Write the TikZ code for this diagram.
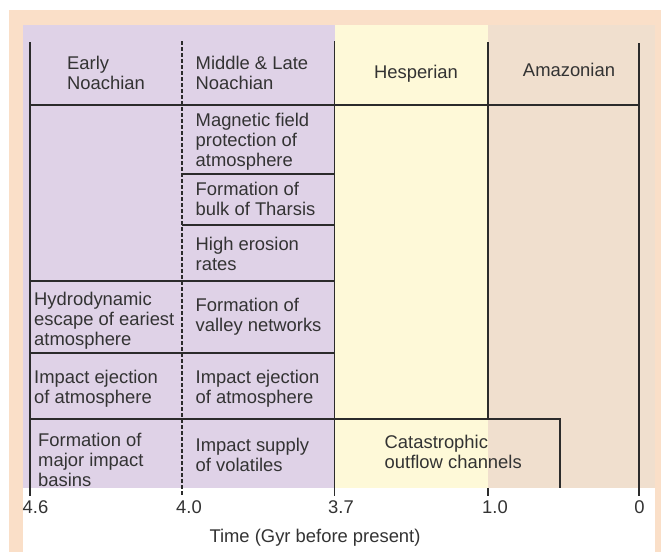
\documentclass[tikz,border=0pt]{standalone}
\usepackage{fontspec}
\setmainfont{Liberation Sans}
\definecolor{peach}{HTML}{FADFC8}
\definecolor{noach}{HTML}{DFD2E7}
\definecolor{hesp}{HTML}{FEF9D8}
\definecolor{amaz}{HTML}{F0DFCE}
\definecolor{ink}{HTML}{333333}
\definecolor{rulec}{HTML}{2B2B2B}
\begin{document}
\begin{tikzpicture}[x=1pt,y=-1pt,
  lbl/.style={font=\fontsize{18.4}{20}\selectfont, text=ink, align=left, inner sep=0pt, anchor=base west},
  clbl/.style={font=\fontsize{18.4}{20}\selectfont, text=ink, inner sep=0pt, anchor=base},
  rl/.style={draw=rulec, line width=1.4pt},
  dashrl/.style={rl, dash pattern=on 4pt off 2pt}]
\useasboundingbox (0,0) rectangle (661,552);
% backgrounds
\fill[peach] (9,10) rectangle (661,552);
\fill[white] (23,488) rectangle (655,552);
\fill[noach] (23,25) rectangle (335,488);
\fill[hesp] (335,25) rectangle (487.5,488);
\fill[amaz] (487.5,25) rectangle (655,488);
% time coordinates
\coordinate (t46top) at (30,42);   \coordinate (t46bot) at (30,496);
\coordinate (t40top) at (182,41);  \coordinate (t40bot) at (182,496);
\coordinate (t37top) at (334.5,41); \coordinate (t37bot) at (334.5,496);
\coordinate (t10top) at (488,42);  \coordinate (t10mid) at (488,419);
\coordinate (t10low) at (488,488); \coordinate (t10bot) at (488,496);
\coordinate (t0top) at (639,43);   \coordinate (t0bot) at (639,496);
% vertical lines
\draw[rl] (t46top) -- (t46bot);
\draw[dashrl] (t40top) -- (t40bot);
\draw[rl] (t37top) -- (t37bot);
\draw[rl] (t10top) -- (t10mid);
\draw[rl] (t10low) -- (t10bot);
\draw[rl] (t0top) -- (t0bot);
% horizontal lines
\draw[rl] (29,105) -- (640,105);
\draw[rl] (182,174) -- (334.5,174);
\draw[rl] (182,225) -- (334.5,225);
\draw[rl] (30,281) -- (334.5,281);
\draw[rl] (30,353) -- (334.5,353);
\draw[rl] (30,419) -- (560,419) -- (560,488);
% headers (anchor = baseline of last line)
\node[lbl] (early) at (67,89.5) {Early\\Noachian};
\node[lbl] (midlate) at (195.5,89.5) {Middle \& Late\\Noachian};
\node[clbl] (hesper) at (416,78) {Hesperian};
\node[clbl] (amazon) at (569,76) {Amazonian};
% events
\node[lbl] (mag) at (195.5,166) {Magnetic field\\protection of\\atmosphere};
\node[lbl] (tharsis) at (195.5,215) {Formation of\\bulk of Tharsis};
\node[lbl] (erosion) at (195.5,270) {High erosion\\rates};
\node[lbl] (hydro) at (34,345) {Hydrodynamic\\escape of eariest\\atmosphere};
\node[lbl] (valley) at (195.5,331.5) {Formation of\\valley networks};
\node[lbl] (ejectA) at (34,403) {Impact ejection\\of atmosphere};
\node[lbl] (ejectB) at (195.5,403) {Impact ejection\\of atmosphere};
\node[lbl] (basins) at (38,486) {Formation of\\major impact\\basins};
\node[lbl] (supply) at (195.5,471.5) {Impact supply\\of volatiles};
\node[lbl] (outflow) at (384.5,468.5) {Catastrophic\\outflow channels};
% axis
\node[lbl] (a46) at (22.5,513) {4.6};
\node[lbl] (a40) at (176,513) {4.0};
\node[lbl] (a37) at (328,513) {3.7};
\node[lbl] (a10) at (482,513) {1.0};
\node[clbl] (a0) at (639.5,513) {0};
\node[clbl] (time) at (315,542) {Time (Gyr before present)};
\end{tikzpicture}
\end{document}
